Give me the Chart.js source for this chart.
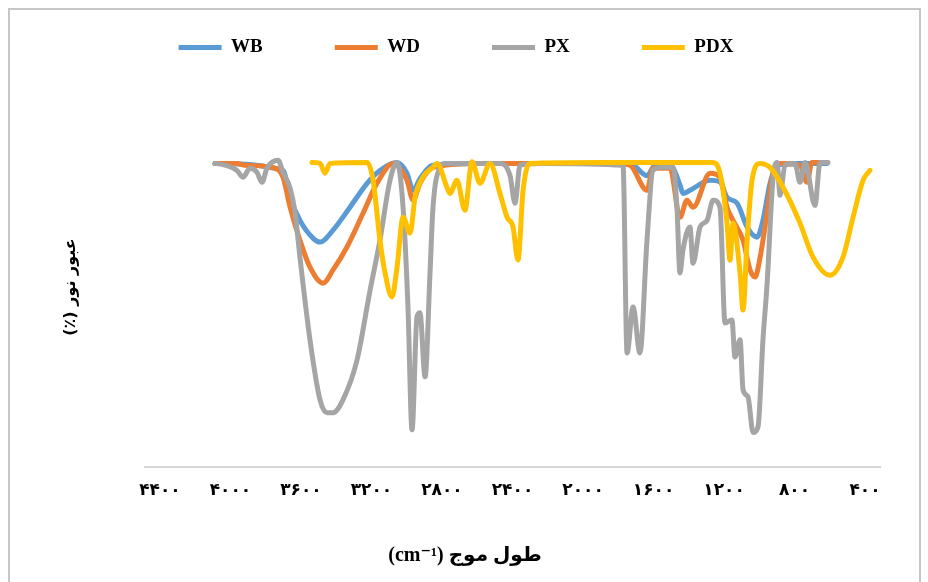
<!DOCTYPE html>
<html lang="fa">
<head>
<meta charset="UTF-8">
<title>FTIR spectra</title>
<script src="https://cdn.jsdelivr.net/npm/chart.js"></script>
<style>
  body { margin: 0; background: #fff; }
  #wrap { width: 928px; height: 582px; }
</style>
</head>
<body>
<div id="wrap"><canvas id="ftir" width="928" height="582"></canvas></div>
<script>
// x axis ticks (wavenumber, cm-1)
const tickValues = [4400, 4000, 3600, 3200, 2800, 2400, 2000, 1600, 1200, 800, 400];
const tickLabels = ['۴۴۰۰', '۴۰۰۰', '۳۶۰۰', '۳۲۰۰', '۲۸۰۰', '۲۴۰۰', '۲۰۰۰', '۱۶۰۰', '۱۲۰۰', '۸۰۰', '۴۰۰'];

const seriesNames = ['WB', 'WD', 'PX', 'PDX'];
const seriesColors = ['#5b9bd5', '#ed7d31', '#a5a5a5', '#ffc000'];

// WB
const wbWave = [4088, 3702, 3662, 3606, 3532, 3492, 3418, 3322, 3225, 3152, 3055, 2999, 2964, 2925, 2851, 2600, 2200, 1800, 1733, 1637, 1591, 1500, 1450, 1433, 1393, 1279, 1223, 1183, 1126, 1069, 1013, 979, 939, 899, 800, 616];
const wbTrans = [99, 96.7, 87.9, 80.4, 74.6, 73.3, 77.2, 84.7, 92.5, 96.7, 99.3, 95.8, 90.2, 94, 98.4, 99, 99, 99, 99, 95, 98.4, 98, 92, 89.2, 90.2, 93.5, 93, 87.9, 86, 78.2, 74.9, 80.4, 92.5, 98.4, 99, 99];

// WD
const wdWave = [4088, 3963, 3918, 3750, 3702, 3662, 3606, 3549, 3475, 3418, 3339, 3248, 3169, 3078, 2999, 2964, 2925, 2851, 2600, 2200, 1800, 1733, 1637, 1603, 1506, 1450, 1410, 1376, 1279, 1223, 1183, 1149, 1092, 1052, 1024, 995, 956, 922, 882, 769, 729, 701, 616];
const wdTrans = [99, 99, 98.4, 97.5, 94.5, 84.7, 73.9, 65.1, 59.9, 64.2, 71.7, 82.7, 92.5, 99, 93.5, 87, 92.5, 97.7, 99, 99, 99, 98.4, 90.2, 97.4, 97.4, 81.4, 87, 84.7, 95.8, 94.5, 84.7, 80.4, 73.9, 64.2, 61.9, 68.4, 82.7, 95.8, 99, 98.4, 92.8, 99.3, 99.3];

// PX
const pxWave = [4088, 4031, 3963, 3929, 3889, 3850, 3821, 3793, 3730, 3702, 3662, 3634, 3606, 3549, 3492, 3452, 3418, 3362, 3282, 3208, 3152, 3095, 3055, 3021, 2993, 2970, 2942, 2925, 2896, 2868, 2851, 2811, 2783, 2471, 2414, 2386, 2357, 2244, 1773, 1750, 1716, 1677, 1637, 1603, 1546, 1489, 1467, 1450, 1433, 1393, 1376, 1336, 1296, 1262, 1223, 1194, 1155, 1138, 1109, 1092, 1064, 1035, 1007, 979, 956, 922, 899, 882, 854, 797, 769, 740, 684, 655, 610];
const pxTrans = [99, 98.4, 96.7, 94.5, 97.4, 96.1, 92.8, 97.4, 100, 96.1, 90.9, 83.1, 68.4, 41.4, 21.8, 17.6, 17.6, 21.8, 34.8, 57.6, 73.9, 93.5, 99.3, 84.7, 52.1, 12, 48.9, 50.2, 29.3, 63.2, 84.7, 97.7, 99, 99, 95, 86, 98.4, 99, 98.4, 37.1, 52.1, 37.1, 73.9, 96.7, 97.7, 97.7, 84.7, 63.2, 70.7, 78.2, 66.4, 78.2, 80.4, 87, 84.7, 46.9, 47.9, 35.8, 41.4, 25.1, 22.8, 11.1, 13, 41.4, 59.3, 94.1, 99.3, 88.6, 98.4, 99, 92.8, 99.3, 85.3, 99.3, 99.3];

// PDX
const pdxWave = [3538, 3492, 3464, 3435, 3225, 3191, 3152, 3123, 3084, 3055, 3021, 2981, 2953, 2908, 2851, 2828, 2772, 2755, 2715, 2670, 2630, 2584, 2528, 2471, 2431, 2397, 2369, 2340, 2301, 1900, 1262, 1223, 1183, 1166, 1149, 1109, 1092, 1069, 1041, 995, 939, 865, 769, 695, 599, 525, 468, 411, 372];
const pdxTrans = [99.3, 99, 95.8, 99, 99.3, 93.5, 73.9, 63.2, 55.4, 65.1, 81.4, 76.2, 87.9, 94.5, 97.7, 99, 91.2, 89.2, 93.5, 83.7, 99.5, 92.5, 99, 89.2, 81.4, 78.2, 67.4, 90.2, 99, 99.3, 99.3, 95.8, 79.5, 67.4, 79.5, 63.2, 51.1, 73.9, 93.5, 99, 97.7, 91.2, 79.5, 68.4, 62.5, 68.4, 81.4, 93.5, 96.7];

function pairs(xs, ys) {
    return xs.map((x, i) => ({ x: x, y: ys[i] }));
}

const seriesData = [
    pairs(wbWave, wbTrans),
    pairs(wdWave, wdTrans),
    pairs(pxWave, pxTrans),
    pairs(pdxWave, pdxTrans)
];

// frame, legend shift and the two axis titles (Persian, right-to-left)
const decor = {
    id: 'decor',
    beforeDraw(chart) {
        const ctx = chart.ctx;
        ctx.save();
        ctx.fillStyle = '#fff';
        ctx.fillRect(0, 0, chart.width, chart.height);
        ctx.strokeStyle = '#c6c6c6';
        ctx.lineWidth = 2;
        ctx.strokeRect(9, 9, 911, 600);
        ctx.restore();
    },
    afterLayout(chart) {
        const lg = chart.legend;
        lg.top -= 78; lg.bottom -= 78;
        lg.left += 16; lg.right += 16;
    },
    afterDraw(chart) {
        const ctx = chart.ctx;
        ctx.save();
        ctx.direction = 'rtl';
        ctx.fillStyle = '#000';
        ctx.textAlign = 'center';
        ctx.textBaseline = 'middle';
        ctx.font = 'bold 20px "Liberation Serif", "DejaVu Sans"';
        ctx.fillText('طول موج (cm⁻¹)', 465, 556);
        ctx.translate(71, 287);
        ctx.rotate(-Math.PI / 2);
        ctx.font = 'bold 16px "DejaVu Sans"';
        ctx.fillText('عبور نور (٪)', 0, 0);
        ctx.restore();
    }
};

new Chart(document.getElementById('ftir'), {
    type: 'line',
    data: {
        datasets: seriesNames.map((name, i) => ({
            label: name,
            data: seriesData[i],
            borderColor: seriesColors[i],
            backgroundColor: seriesColors[i],
            borderWidth: 5,
            fill: false,
            order: 4 - i
        }))
    },
    options: {
        responsive: false,
        animation: false,
        layout: { padding: { top: 44, right: 48, bottom: 67, left: 0 } },
        elements: {
            point: { radius: 0 },
            line: { cubicInterpolationMode: 'monotone', borderJoinStyle: 'round', borderCapStyle: 'round' }
        },
        plugins: {
            legend: {
                position: 'top',
                labels: {
                    usePointStyle: true,
                    pointStyle: 'line',
                    pointStyleWidth: 43,
                    padding: 72,
                    color: '#000',
                    font: { family: 'Liberation Serif', size: 19, weight: 'bold' },
                    sort: (a, b) => a.datasetIndex - b.datasetIndex,
                    generateLabels: chart => Chart.defaults.plugins.legend.labels.generateLabels(chart)
                        .map(l => Object.assign(l, { lineWidth: 5, strokeStyle: seriesColors[l.datasetIndex] }))
                }
            },
            tooltip: { enabled: false }
        },
        scales: {
            x: {
                type: 'linear',
                reverse: true,
                min: 315,
                max: 4485,
                afterBuildTicks: scale => { scale.ticks = tickValues.map(v => ({ value: v })); },
                grid: { display: false, drawTicks: false },
                border: { display: true, color: '#d6d6d6', width: 2 },
                ticks: {
                    padding: 14,
                    color: '#000',
                    autoSkip: false,
                    maxRotation: 0,
                    font: { family: 'DejaVu Sans', size: 17, weight: 'bold' },
                    callback: v => tickLabels[tickValues.indexOf(v)]
                }
            },
            y: {
                min: 0,
                max: 105,
                ticks: { display: false },
                grid: { display: false, drawTicks: false },
                border: { display: false },
                afterFit: scale => { scale.width = 145; }
            }
        }
    },
    plugins: [decor]
});
</script>
</body>
</html>
